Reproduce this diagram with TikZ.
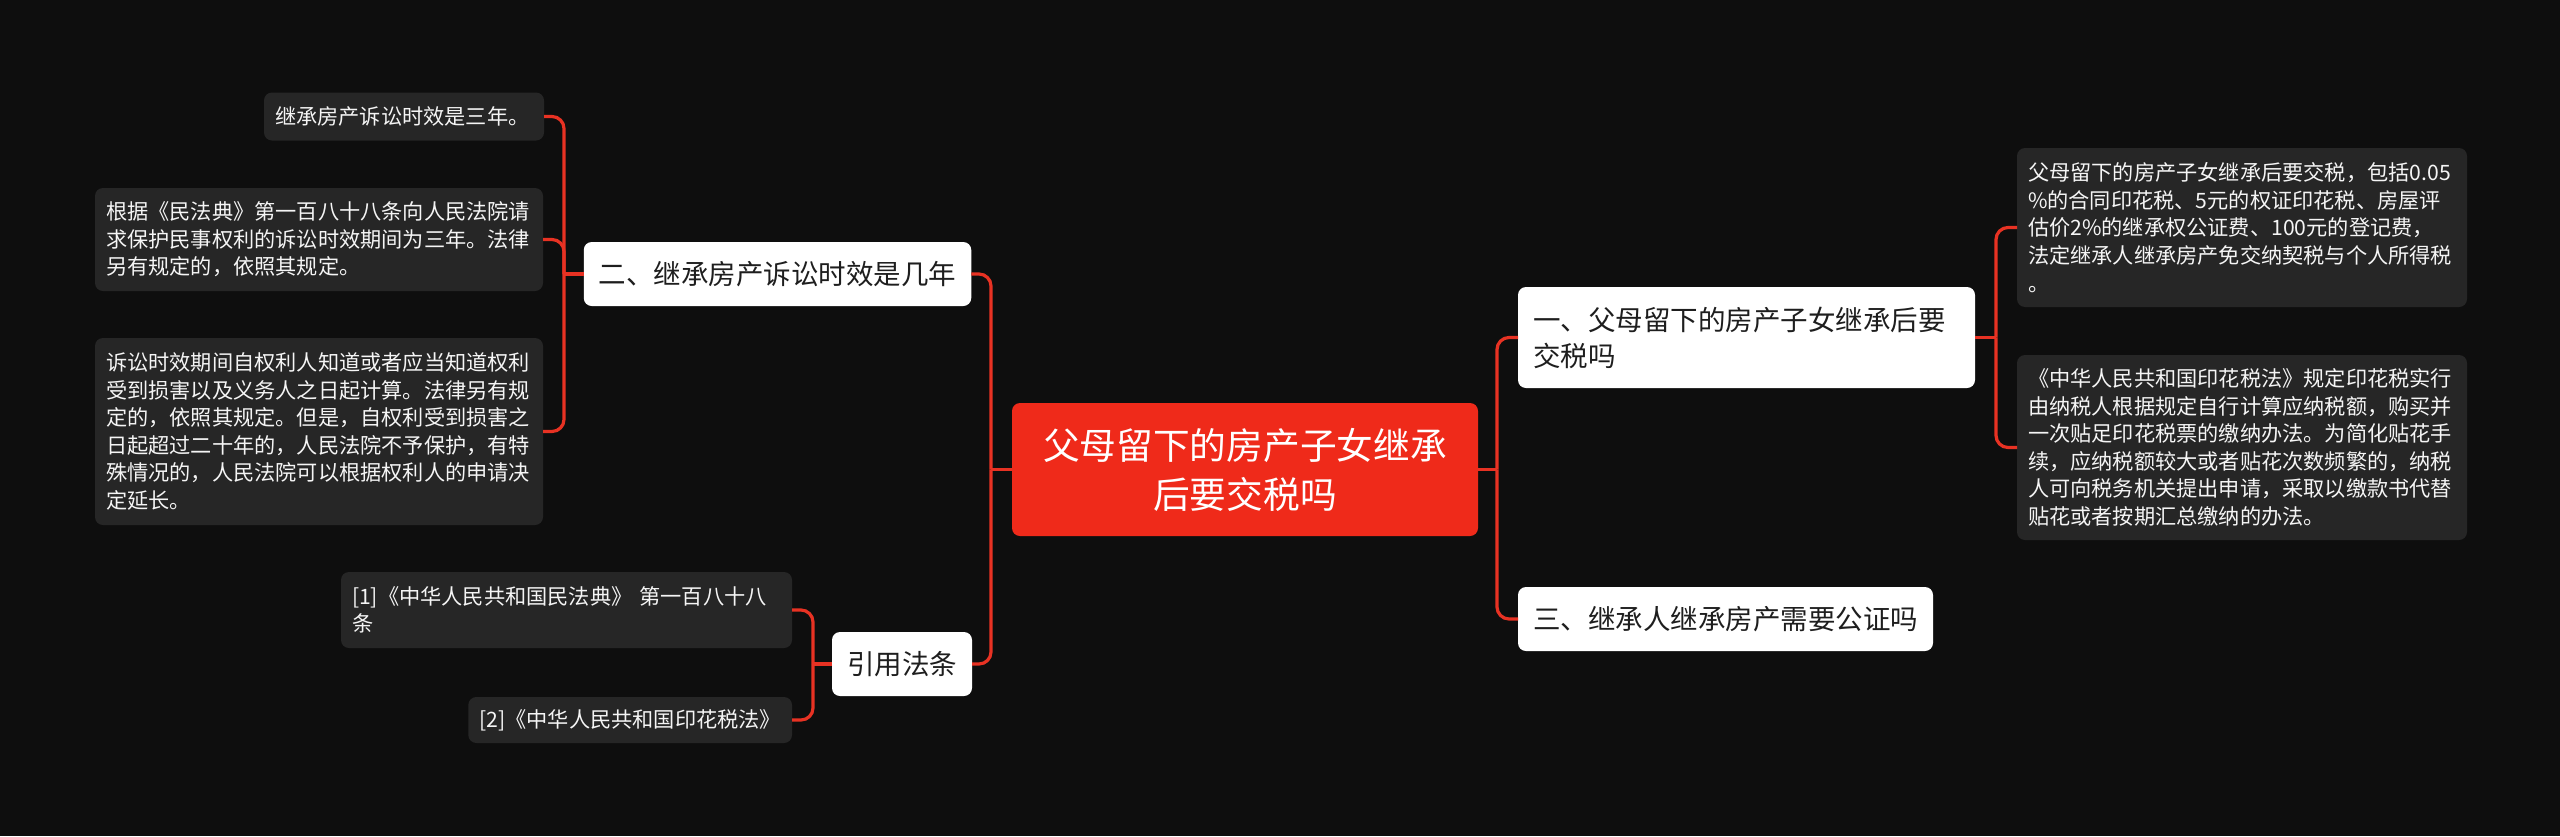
\documentclass[tikz,border=0pt]{standalone}
\usepackage{fontspec}
\newfontfamily\cjk{Noto Sans CJK SC}
\definecolor{bgcol}{RGB}{14,14,14}
\definecolor{leafbg}{RGB}{38,38,38}
\definecolor{leaftext}{RGB}{245,245,245}
\definecolor{topictext}{RGB}{30,30,30}
\definecolor{rootred}{RGB}{239,42,26}
\definecolor{linkred}{RGB}{232,50,35}
\begin{document}
\begin{tikzpicture}[x=1pt,y=-1pt,
  box/.style={rounded corners=8pt, inner sep=0pt, outer sep=0pt},
  leaf/.style={box, fill=leafbg, text=leaftext, font=\cjk\fontsize{21.2}{27.6}\selectfont, align=left, inner xsep=11pt},
  topic/.style={box, fill=white, text=topictext, font=\cjk\fontsize{27.5}{36}\selectfont, align=left, inner xsep=15pt},
  rootbox/.style={box, fill=rootred, text=white, font=\cjk\fontsize{36.7}{49}\selectfont, align=center},
  link/.style={draw=linkred, line width=3.2pt, rounded corners=12pt}
]
\fill[bgcol] (0,0) rectangle (2560,836);
\useasboundingbox (0,0) rectangle (2560,836);

% root and topics
\node[rootbox, minimum width=466pt, minimum height=133pt] (root) at (1245,469.5) {父母留下的房产子女继承\\后要交税吗};
\node[topic, minimum width=387pt, minimum height=64pt] (t2) at (777.5,274) {二、继承房产诉讼时效是几年};
\node[topic, minimum width=138pt, minimum height=64pt] (t4) at (902,664) {引用法条};
\node[topic, text width=427pt, minimum height=101pt] (t1) at (1746.5,337.5) {一、父母留下的房产子女继承后要\\交税吗};
\node[topic, minimum width=415pt, minimum height=64pt] (t3) at (1725.5,619) {三、继承人继承房产需要公证吗};

% leaves of 二
\node[leaf, text width=258pt, minimum height=48pt] (a) at (404,116.5) {继承房产诉讼时效是三年。};
\node[leaf, text width=426pt, minimum height=103pt] (b) at (319,239.5) {根据《民法典》第一百八十八条向人民法院请\\求保护民事权利的诉讼时效期间为三年。法律\\另有规定的，依照其规定。};
\node[leaf, text width=426pt, minimum height=187pt] (c) at (319,431.5) {诉讼时效期间自权利人知道或者应当知道权利\\受到损害以及义务人之日起计算。法律另有规\\定的，依照其规定。但是，自权利受到损害之\\日起超过二十年的，人民法院不予保护，有特\\殊情况的，人民法院可以根据权利人的申请决\\定延长。};

% leaves of 引用法条
\node[leaf, text width=429pt, minimum height=76pt] (r1) at (566.5,610) {[1]《中华人民共和国民法典》 第一百八十八\\条};
\node[leaf, minimum height=46pt, anchor=east] (r2) at (792,720) {[2]《中华人民共和国印花税法》};

% leaves of 一
\node[leaf, text width=428pt, minimum height=159pt] (d) at (2242,227.5) {父母留下的房产子女继承后要交税，包括0.05\\\%的合同印花税、5元的权证印花税、房屋评\\估价2\%的继承权公证费、100元的登记费，\\法定继承人继承房产免交纳契税与个人所得税\\。};
\node[leaf, text width=428pt, minimum height=185pt] (e) at (2242,447.5) {《中华人民共和国印花税法》规定印花税实行\\由纳税人根据规定自行计算应纳税额，购买并\\一次贴足印花税票的缴纳办法。为简化贴花手\\续，应纳税额较大或者贴花次数频繁的，纳税\\人可向税务机关提出申请，采取以缴款书代替\\贴花或者按期汇总缴纳的办法。};

% junctions
\coordinate (jL) at (991,469.5);
\coordinate (jR) at (1497,469.5);
\coordinate (j2) at (564,274);
\coordinate (j4) at (813,664);
\coordinate (j1) at (1996,337.5);

% connectors
\draw[link] (root.west) -- (jL);
\draw[link] (jL) |- (t2.east);
\draw[link] (jL) |- (t4.east);
\draw[link] (root.east) -- (jR);
\draw[link] (jR) |- (t1.west);
\draw[link] (jR) |- (t3.west);

\draw[link] (t2.west) -- (j2);
\draw[link] (j2) |- (a.east);
\draw[link] (j2) |- (b.east);
\draw[link] (j2) |- (c.east);

\draw[link] (t4.west) -- (j4);
\draw[link] (j4) |- (r1.east);
\draw[link] (j4) |- (r2.east);

\draw[link] (t1.east) -- (j1);
\draw[link] (j1) |- (d.west);
\draw[link] (j1) |- (e.west);
\end{tikzpicture}
\end{document}
